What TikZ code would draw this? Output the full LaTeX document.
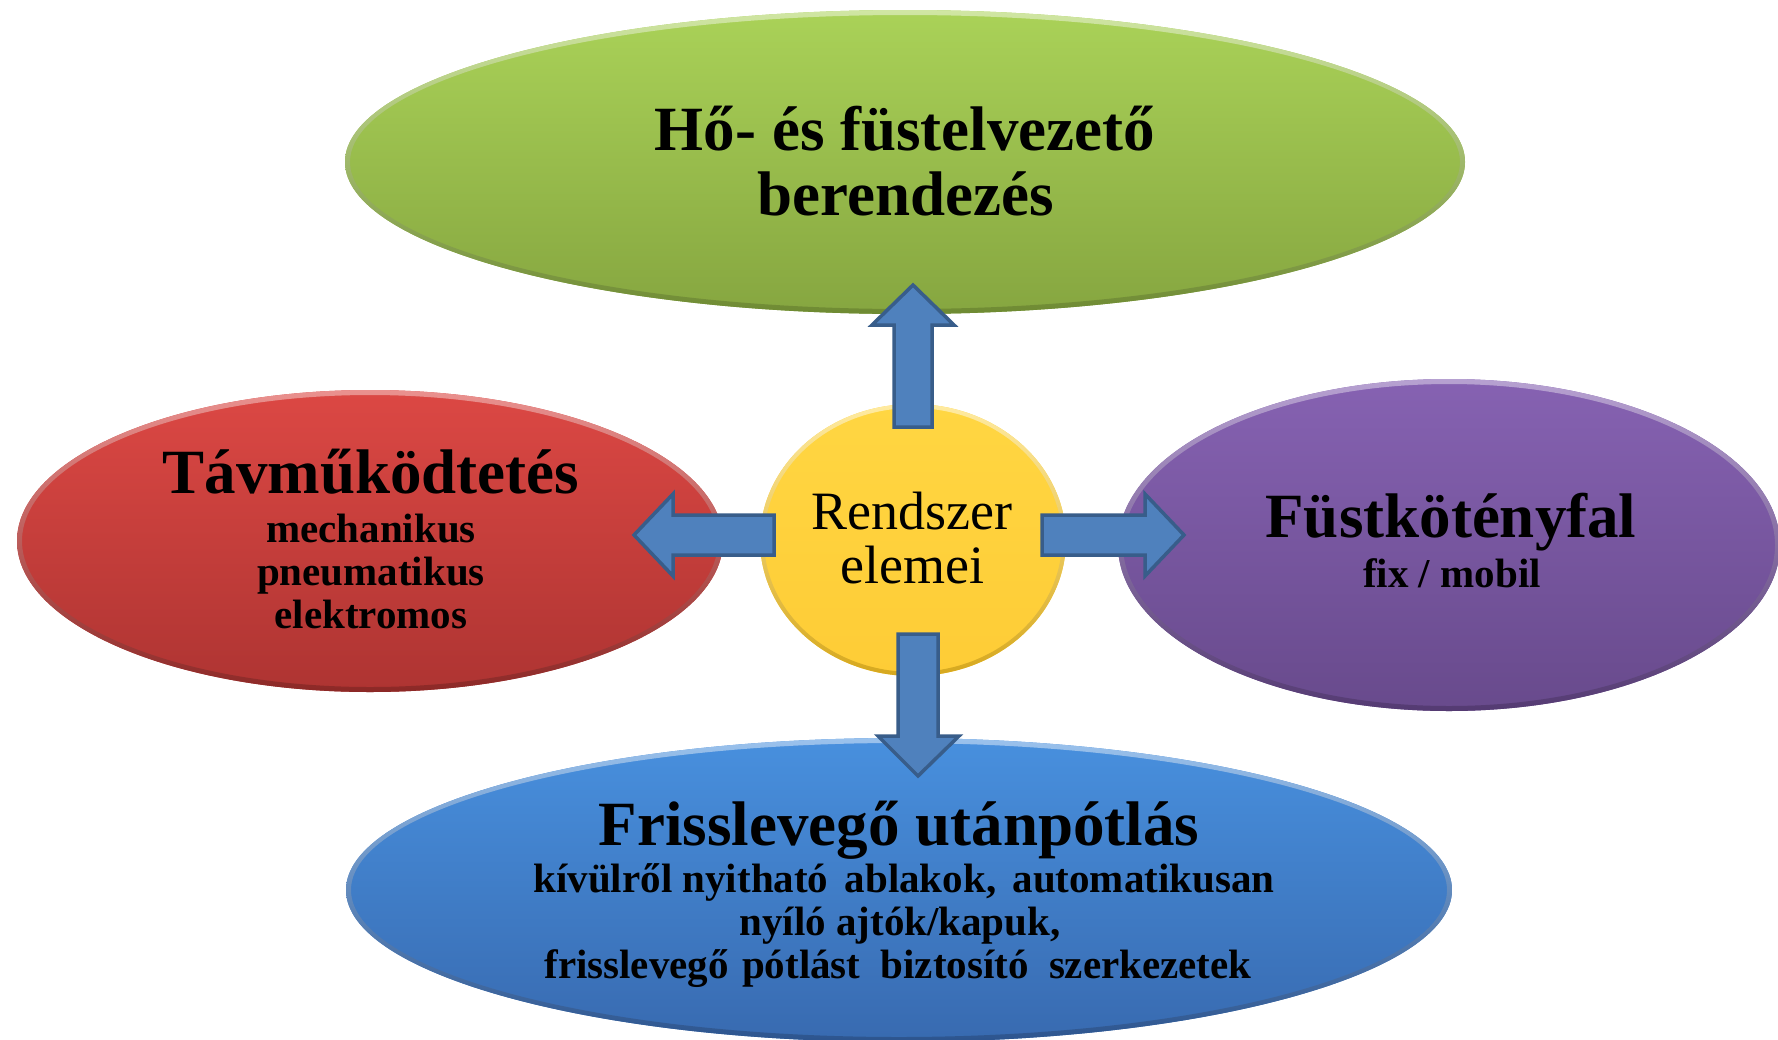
\documentclass[tikz,border=0pt]{standalone}
\usepackage{fontspec}
\setmainfont{Liberation Serif}
\usetikzlibrary{shapes.geometric}
\definecolor{gtop}{RGB}{170,210,88}
\definecolor{gbot}{RGB}{134,166,64}
\definecolor{gedge}{RGB}{110,138,50}
\definecolor{rtop}{RGB}{220,72,68}
\definecolor{rbot}{RGB}{174,52,50}
\definecolor{redge}{RGB}{140,40,38}
\definecolor{ptop}{RGB}{134,98,178}
\definecolor{pbot}{RGB}{104,74,140}
\definecolor{pedge}{RGB}{84,58,114}
\definecolor{btop}{RGB}{72,144,222}
\definecolor{bbot}{RGB}{56,106,176}
\definecolor{bedge}{RGB}{44,84,142}
\definecolor{ytop}{RGB}{255,214,66}
\definecolor{ybot}{RGB}{254,204,54}
\definecolor{yedge}{RGB}{214,168,30}
\definecolor{arrfill}{RGB}{79,129,189}
\definecolor{arredge}{RGB}{56,93,138}
\newcommand\bevelring[6]{% center, rx, ry, light, dark, ring width
  \path[even odd rule, top color=#4, bottom color=#5]
    #1 ellipse [x radius=#2, y radius=#3]
    #1 ellipse [x radius=#2-#6, y radius=#3-#6];
}
\tikzset{
  blob/.style={ellipse, inner sep=0pt},
  blockarrow/.style={fill=arrfill, draw=arredge, line width=3.5pt, line join=miter},
  ttl/.style={anchor=base, inner sep=0pt, font=\fontsize{63}{65}\selectfont\bfseries},
  sub/.style={anchor=base, inner sep=0pt, font=\fontsize{41}{43}\selectfont\bfseries},
  ctr/.style={anchor=base, inner sep=0pt, font=\fontsize{54}{54}\selectfont},
}
\begin{document}
\begin{tikzpicture}[x=1pt,y=-1pt]
\useasboundingbox (0,0) rectangle (1778,1039);
\clip (0,0) rectangle (1778,1039);
\fill[white] (0,0) rectangle (1778,1039);
% ellipses
\node[blob, minimum width=1120pt, minimum height=304pt, top color=gtop, bottom color=gbot] (green) at (905,162) {};
\bevelring{(green.center)}{560}{152}{gtop!55!white}{gedge}{5}
\node[blob, minimum width=706pt, minimum height=302pt, top color=rtop, bottom color=rbot] (red) at (370,541) {};
\bevelring{(red.center)}{353}{151}{rtop!60!white}{redge}{5}
\node[blob, minimum width=662pt, minimum height=332pt, top color=ptop, bottom color=pbot] (purple) at (1449,545) {};
\bevelring{(purple.center)}{331}{166}{ptop!60!white}{pedge}{5}
\node[blob, minimum width=1106pt, minimum height=304pt, top color=btop, bottom color=bbot] (blue) at (899,890) {};
\bevelring{(blue.center)}{553}{152}{btop!55!white}{bedge}{5}
\node[blob, minimum width=306pt, minimum height=272pt, top color=ytop, bottom color=ybot] (center) at (913,540) {};
\bevelring{(center.center)}{153}{136}{ytop!50!white}{yedge}{4}
% texts
\node[ttl] (g1) at (905,150) {Hő- és füstelvezető};
\node[ttl] (g2) at (906,215) {berendezés};
\node[ttl] (r1) at (371,493) {Távműködtetés};
\node[sub] (r2) at (371,542) {mechanikus};
\node[sub] (r3) at (371,585) {pneumatikus};
\node[sub] (r4) at (371,628) {elektromos};
\node[ttl] (p1) at (1451,537) {Füstkötényfal};
\node[sub] (p2) at (1452,587) {fix / mobil};
\node[ttl] (b1) at (899,845) {Frisslevegő utánpótlás};
\node[sub] (b2) at (904,892) {kívülről nyitható\hspace{6pt} ablakok,\hspace{6pt} automatikusan};
\node[sub] (b3) at (900,935) {nyíló ajtók/kapuk,};
\node[sub] (b4) at (898,978) {frisslevegő\hspace{3pt} pótlást\hspace{10pt} biztosító\hspace{10pt} szerkezetek};
\node[ctr] (c1) at (912,529) {Rendszer};
\node[ctr] (c2) at (912,583) {elemei};
% block arrows
\draw[blockarrow] (894,427) -- (894,325) -- (872,325) -- (913,285) -- (954,325) -- (932,325) -- (932,427) -- cycle;
\draw[blockarrow] (774,515) -- (673,515) -- (673,494) -- (634,535) -- (673,576) -- (673,555) -- (774,555) -- cycle;
\draw[blockarrow] (1042,515) -- (1145,515) -- (1145,494) -- (1184,535) -- (1145,576) -- (1145,555) -- (1042,555) -- cycle;
\draw[blockarrow] (898,634) -- (898,736) -- (878,736) -- (918,776) -- (959,736) -- (938,736) -- (938,634) -- cycle;
\end{tikzpicture}
\end{document}
